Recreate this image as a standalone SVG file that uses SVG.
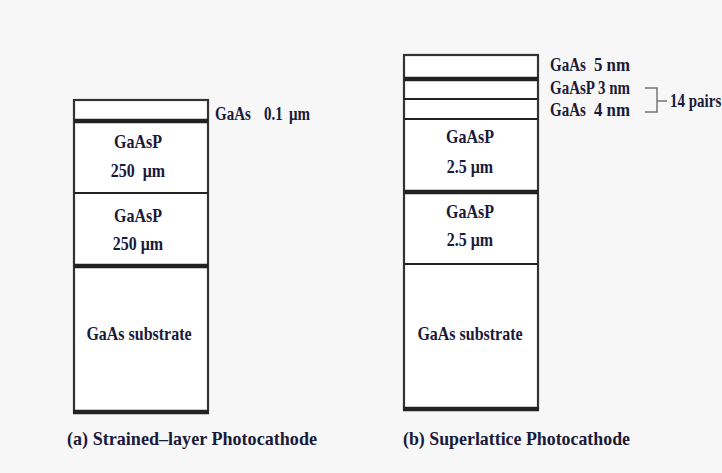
<svg xmlns="http://www.w3.org/2000/svg" width="722" height="473" viewBox="0 0 722 473">
<style>
.box{fill:#fff;stroke:#333;stroke-width:2.2}
.thin{stroke:#222;stroke-width:2.2}
.thick{stroke:#222;stroke-width:4.5}
text{font-family:"Liberation Serif","Times New Roman",serif;font-weight:bold;fill:#1a1a3a}
.m{font-size:16px;text-anchor:middle}
.s{font-size:15px}
.cap{font-size:16px}
</style>
<rect width="722" height="473" fill="#f7f7f7"/>
<g id="stack-a">
<rect class="box" x="74" y="100" width="134" height="312"/>
<line class="thick" x1="74" y1="121" x2="208" y2="121"/>
<line class="thin" x1="74" y1="193" x2="208" y2="193"/>
<line class="thick" x1="74" y1="266" x2="208" y2="266"/>
<line class="thick" x1="73" y1="412" x2="209" y2="412"/>
<text class="s" transform="translate(0,120) scale(1,1.22)"><tspan x="215" y="0">GaAs</tspan><tspan x="264" y="0">0.1</tspan><tspan x="289" y="0">μm</tspan></text>
<text class="m" transform="translate(138,148) scale(1,1.22)">GaAsP</text>
<text class="m" transform="translate(138,177) scale(1,1.22)" xml:space="preserve">250  μm</text>
<text class="m" transform="translate(138,222) scale(1,1.22)">GaAsP</text>
<text class="m" transform="translate(138,250) scale(1,1.22)">250 μm</text>
<text class="m" transform="translate(139,340) scale(1,1.22)">GaAs substrate</text>
<text class="cap" transform="translate(67,445) scale(1,1.22)" textLength="250" lengthAdjust="spacingAndGlyphs">(a) Strained–layer Photocathode</text>
</g>
<g id="stack-b">
<rect class="box" x="404" y="55" width="134" height="354"/>
<line class="thick" x1="404" y1="79" x2="538" y2="79"/>
<line class="thin" x1="404" y1="99" x2="538" y2="99"/>
<line class="thin" x1="404" y1="119" x2="538" y2="119"/>
<line class="thick" x1="404" y1="192" x2="538" y2="192"/>
<line class="thin" x1="404" y1="264" x2="538" y2="264"/>
<line class="thick" x1="403" y1="409" x2="539" y2="409"/>
<text class="s" transform="translate(0,71) scale(1,1.22)"><tspan x="550" y="0">GaAs</tspan><tspan x="594" y="0" textLength="36" lengthAdjust="spacingAndGlyphs">5 nm</tspan></text>
<text class="s" transform="translate(0,94) scale(1,1.22)"><tspan x="550" y="0">GaAsP</tspan><tspan x="598" y="0" textLength="32" lengthAdjust="spacingAndGlyphs">3 nm</tspan></text>
<text class="s" transform="translate(0,116) scale(1,1.22)"><tspan x="550" y="0">GaAs</tspan><tspan x="594" y="0" textLength="36" lengthAdjust="spacingAndGlyphs">4 nm</tspan></text>
<path d="M645 88 H657 V112 H645 M657 101 H667" fill="none" stroke="#777" stroke-width="1.5"/>
<text class="s" transform="translate(670,107) scale(1,1.22)">14 pairs</text>
<text class="m" transform="translate(470,143) scale(1,1.22)">GaAsP</text>
<text class="m" transform="translate(470,173) scale(1,1.22)">2.5 μm</text>
<text class="m" transform="translate(470,218) scale(1,1.22)">GaAsP</text>
<text class="m" transform="translate(470,246) scale(1,1.22)">2.5 μm</text>
<text class="m" transform="translate(470,340) scale(1,1.22)">GaAs substrate</text>
<text class="cap" transform="translate(403,445) scale(1,1.22)" textLength="227" lengthAdjust="spacingAndGlyphs">(b) Superlattice Photocathode</text>
</g>
</svg>
